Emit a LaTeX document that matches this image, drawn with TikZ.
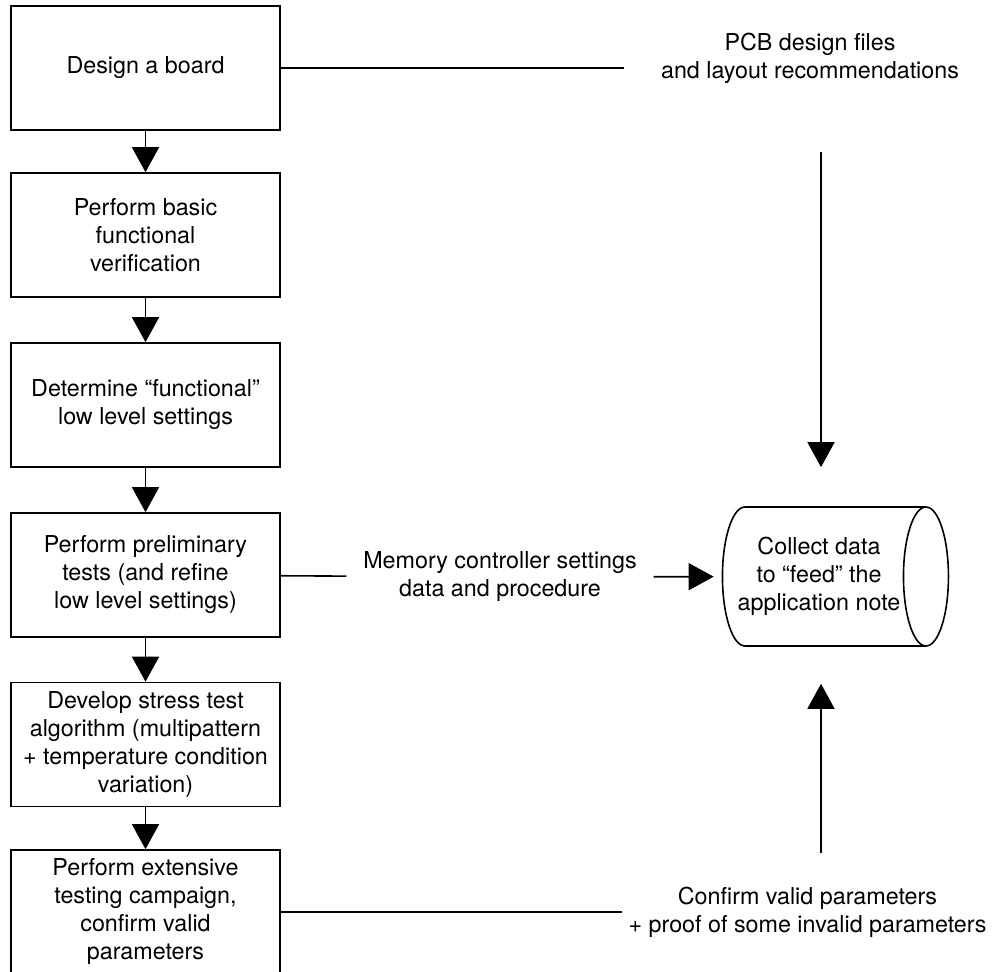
\documentclass[tikz,border=0pt]{standalone}
\usepackage{fontspec}
\setmainfont{TeX Gyre Heros}
\usepackage{tikz}
\usetikzlibrary{arrows.meta,positioning,shapes}

\begin{document}
\begin{tikzpicture}[x=0.5pt,y=-0.5pt,line width=0.8pt,
  font=\fontsize{11.65}{14}\selectfont,
  box/.style={draw,minimum width=134.5pt,minimum height=62pt,align=center,inner sep=2pt},
  arr/.style={-{Triangle[length=12.5pt,width=13.5pt]}},
  note/.style={align=center,inner ysep=2pt}]
\useasboundingbox (0,0) rectangle (992,972);
\node[box] (b1) at (145.5,68) {Design a board};
\node[box] (b2) at (145.5,235) {Perform basic\\functional\\verification};
\node[box] (b3) at (145.5,405) {Determine “functional”\\low level settings};
\node[box] (b4) at (145.5,575) {Perform preliminary\\tests (and refine\\low level settings)};
\node[box] (b5) at (145.5,744.5) {Develop stress test\\algorithm (multipattern\\+ temperature condition\\variation)};
\node[box] (b6) at (145.5,912) {Perform extensive\\testing campaign,\\confirm valid\\parameters};
\node[draw,cylinder,aspect=0.49,minimum width=69.5pt,minimum height=113pt,inner xsep=0pt,align=center] (cyl) at (819,576.5) {Collect data\\to “feed” the\\application note};
\node[note,inner xsep=18pt] (pcb) at (810,58) {PCB design files\\and layout recommendations};
\node[note,inner xsep=8pt] (mem) at (500,577) {Memory controller settings\\data and procedure};
\node[note,inner xsep=3pt] (conf) at (807.5,912.5) {Confirm valid parameters\\+ proof of some invalid parameters};
\coordinate (tin) at (821,152);
\coordinate (bin) at (821,853);
\draw[arr] (b1) -- (b2);
\draw[arr] (b2) -- (b3);
\draw[arr] (b3) -- (b4);
\draw[arr] (b4) -- (b5);
\draw[arr] (b5) -- (b6);
\draw (b1) -- (b1 -| pcb.west);
\draw (b4) -- (mem);
\draw[arr,shorten >=4pt] (mem) -- (cyl);
\draw (b6) -- (b6 -| conf.west);
\draw[arr,shorten >=19.5pt] (tin) -- (tin |- cyl.north);
\draw[arr,shorten >=18.5pt] (bin) -- (bin |- cyl.south);
\end{tikzpicture}
\end{document}
